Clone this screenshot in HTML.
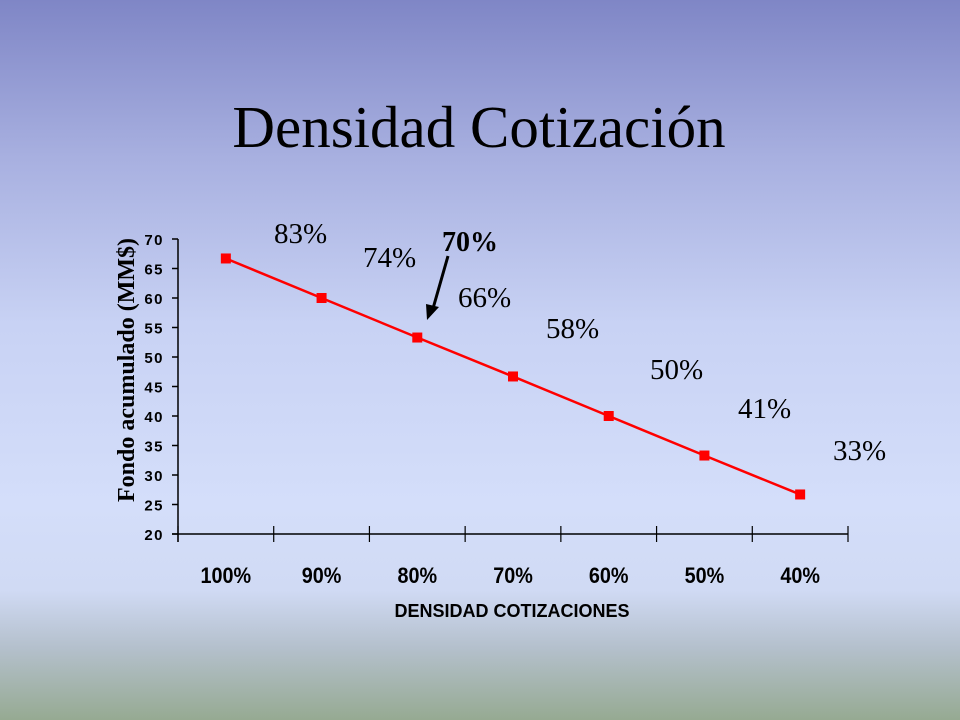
<!DOCTYPE html>
<html><head><meta charset="utf-8"><style>
html,body{margin:0;padding:0;height:720px}
body{width:960px;height:720px;overflow:hidden;background:linear-gradient(to bottom,#7f86c6 0%,#a8b0e0 22%,#c8d2f4 45%,#d4defa 70%,#d0daf4 82%,#b4c0cc 90%,#96aa92 100%);font-family:"Liberation Sans",sans-serif}
svg{display:block}
</style></head><body>
<svg width="960" height="720" xmlns="http://www.w3.org/2000/svg">
<text x="479" y="147" text-anchor="middle" font-family="Liberation Serif" font-size="59" fill="#000">Densidad Cotización</text>
<g id="axes"></g>
<g id="marks"></g>
<text x="0" y="0" transform="translate(134,370) rotate(-90)" text-anchor="middle" font-family="Liberation Serif" font-weight="bold" font-size="24">Fondo acumulado (MM$)</text>
<text x="512" y="617" text-anchor="middle" font-weight="bold" font-size="18">DENSIDAD COTIZACIONES</text>
<line x1="448" y1="256" x2="432" y2="312" stroke="#000" stroke-width="3"/>
<polygon points="427,320 426,304 439,307" fill="#000"/>
<text x="442" y="251" font-family="Liberation Serif" font-weight="bold" font-size="28">70%</text>
</svg>
<script>
const categories=["100%","90%","80%","70%","60%","50%","40%"];
const values=[66.7,60,53.3,46.7,40,33.3,26.7];
const yTicks=[20,25,30,35,40,45,50,55,60,65,70];
const annotations=["83%","74%","66%","58%","50%","41%","33%"];
const NS="http://www.w3.org/2000/svg";
const x0=178,x1=848,yTop=239,yBot=534,yMin=20,yMax=70;
const bw=(x1-x0)/categories.length;
const xs=i=>x0+bw*(i+0.5);
const ys=v=>yBot-(v-yMin)/(yMax-yMin)*(yBot-yTop);
function mk(t,a,p){const e=document.createElementNS(NS,t);for(const k in a)e.setAttribute(k,a[k]);p.appendChild(e);return e;}
const ax=document.getElementById('axes'),mg=document.getElementById('marks');
let l=mk('line',{x1:x0,y1:yTop,x2:x0,y2:yBot+8,stroke:'#000','stroke-width':1.5},ax);


l=mk('line',{x1:x0-6,y1:yBot,x2:x1,y2:yBot,stroke:'#000','stroke-width':1.5},ax);


yTicks.forEach(v=>{const y=ys(v);
 const t=mk('line',{x1:x0-6,y1:y,x2:x0,y2:y,stroke:'#000','stroke-width':1.5},ax);
 
 
 const tx=mk('text',{x:x0-14,y:y+6,'text-anchor':'end','font-size':15,'font-weight':'bold','letter-spacing':'1.5'},ax);
 tx.textContent=v;
 
 });
for(let i=0;i<=categories.length;i++){const x=x0+bw*i;
 const t=mk('line',{x1:x,y1:yBot-8,x2:x,y2:yBot+8,stroke:'#000','stroke-width':1.2},ax);
 
 }
categories.forEach((c,i)=>{const tx=mk('text',{x:xs(i),y:583,'text-anchor':'middle','font-size':22,'font-weight':'bold',transform:'translate('+xs(i)+',0) scale(0.9,1) translate('+(-xs(i))+',0)'},ax);
 tx.textContent=c;
 
 });
const pl=mk('polyline',{points:values.map((v,i)=>xs(i)+','+ys(v)).join(' '),fill:'none',stroke:'#ff0000','stroke-width':2.5},mg);


values.forEach((v,i)=>{const r=mk('rect',{x:xs(i)-5,y:ys(v)-5,width:10,height:10,fill:'#ff0000'},mg);
 
 });
const annX=[274,363,458,546,650,738,833],annY=[243,267,307,338,379,418,460];
annotations.forEach((a,i)=>{const tx=mk('text',{x:annX[i],y:annY[i],'font-family':'Liberation Serif','font-size':29},mg);
 tx.textContent=a;
 
 });
</script>
</body></html>
